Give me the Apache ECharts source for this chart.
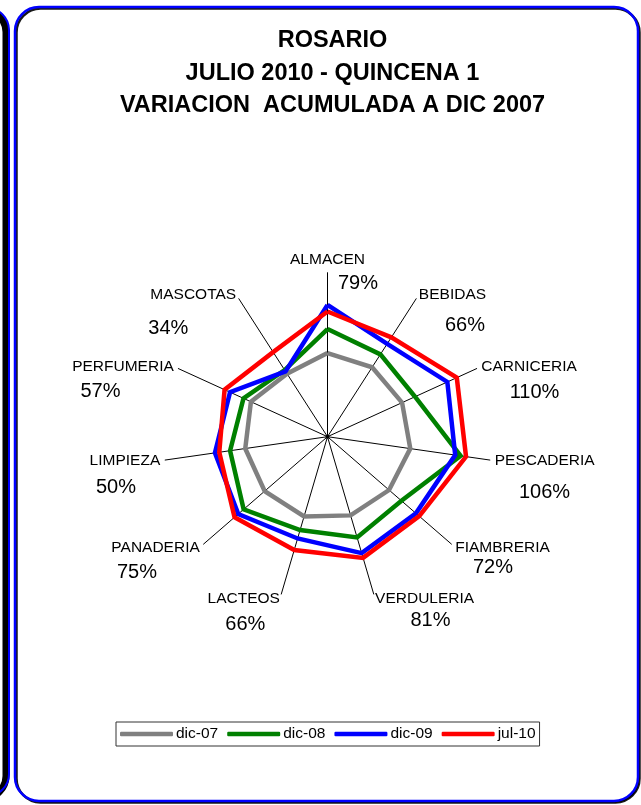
<!DOCTYPE html>
<html>
<head>
<meta charset="utf-8">
<script src="https://cdn.jsdelivr.net/npm/echarts@6/dist/echarts.min.js"></script>
<style>
html,body{margin:0;padding:0;background:#fff;}
#c{width:641px;height:805px;}
</style>
</head>
<body>
<div id="c"></div>
<script>
// ---- data (clockwise from top) ----
const categories = ['ALMACEN','BEBIDAS','CARNICERIA','PESCADERIA','FIAMBRERIA','VERDULERIA','LACTEOS','PANADERIA','LIMPIEZA','PERFUMERIA','MASCOTAS'];
const seriesNames = ['dic-07','dic-08','dic-09','jul-10'];
const dic07 = [3, 1, 0, 3, -1, 0, 2, 2, 2, 4, -13];
const dic08 = [47, 29, 26, 96, 29, 42, 28, 53, 30, 19, -5];
const dic09 = [91, 52, 91, 86, 64, 72, 44, 66, 58, 46, -8];
const jul10 = [79, 66, 110, 106, 72, 81, 66, 75, 50, 57, 34];
const axisMin = -150, axisMax = 150;
const titleLines = ['ROSARIO', 'JULIO 2010 - QUINCENA 1', 'VARIACION  ACUMULADA A DIC 2007'];

// ---- layout / style (not data) ----
const colors = ['#808080', '#008000', '#0000ff', '#ff0000'];
const FONT = '"Liberation Sans", Arial, sans-serif';
const CX = 327.5, CY = 436.7, R = 164;
// positions of the percentage text boxes (centres), same order as categories
const pctPos = [[358,283],[465,325],[534.5,392],[544.5,492],[493,567],[430.5,620],[245.3,624],[137,572],[116,487],[100.5,391],[168.3,328]];

// ECharts radar runs counter-clockwise; reorder so it runs clockwise like the reference
const order = [0].concat(categories.map((_, i) => i).slice(1).reverse());
const reorder = arr => order.map(i => arr[i]);

const chart = echarts.init(document.getElementById('c'), null, {renderer: 'canvas'});

const graphics = [
  // neighbouring panel edge on the far left
  {type: 'rect', shape: {x: -520, y: 10, width: 526, height: 788, r: 22},
   style: {fill: 'none', stroke: '#000', lineWidth: 7}, z: 0},
  {type: 'rect', shape: {x: -520, y: 8, width: 529, height: 788, r: 22},
   style: {fill: 'none', stroke: '#0000ff', lineWidth: 2}, z: 0},
  // main panel border
  {type: 'rect', shape: {x: 15, y: 7, width: 623, height: 794, r: 24},
   style: {fill: '#fff', stroke: '#0000ff', lineWidth: 2.5,
           shadowColor: 'rgba(0,0,0,0.9)', shadowOffsetX: 1.5, shadowOffsetY: 1.5}, z: -1},
  // centre dot
  {type: 'circle', shape: {cx: CX, cy: CY, r: 2}, style: {fill: '#000'}, z: 10}
];
categories.forEach((c, i) => {
  graphics.push({
    type: 'text', x: pctPos[i][0], y: pctPos[i][1], z: 10,
    style: {text: jul10[i] + '%', fontSize: 20, fontFamily: FONT, fill: '#000',
            align: 'center', verticalAlign: 'middle'}
  });
});

const mk = (name, vals, idx) => ({
  value: reorder(vals), name: name,
  symbol: 'none',
  lineStyle: {color: colors[idx], width: 4.5, join: 'miter'},
  itemStyle: {color: colors[idx]},
  z: 2 + idx
});

chart.setOption({
  animation: false,
  backgroundColor: '#fff',
  title: {
    text: titleLines.join('\n'),
    left: 332.5, textAlign: 'center', top: 24.5, padding: 0,
    textStyle: {fontFamily: FONT, fontWeight: 'bold', fontSize: 23.5, lineHeight: 32.5, color: '#000'}
  },
  legend: {
    data: seriesNames,
    left: 116, top: 722,
    orient: 'horizontal',
    icon: 'roundRect',
    itemWidth: 53, itemHeight: 4.5, itemGap: 9,
    padding: [4, 4, 4, 4],
    borderColor: '#333', borderWidth: 1,
    backgroundColor: '#fff',
    textStyle: {fontFamily: FONT, fontSize: 15.5, color: '#000', padding: [0, 0, 0, -2]}
  },
  radar: {
    center: [CX, CY], radius: R,
    startAngle: 90,
    shape: 'polygon',
    splitNumber: 1,
    indicator: reorder(categories).map(n => ({name: n, min: axisMin, max: axisMax})),
    axisName: {color: '#000', fontSize: 15.5, fontFamily: FONT},
    nameGap: 5,
    axisLine: {lineStyle: {color: '#000', width: 1}},
    splitLine: {show: false},
    splitArea: {show: false},
    axisTick: {show: false},
    axisLabel: {show: false}
  },
  graphic: graphics,
  series: [{
    type: 'radar',
    emphasis: {disabled: true},
    silent: true,
    data: [mk(seriesNames[0], dic07, 0), mk(seriesNames[1], dic08, 1), mk(seriesNames[2], dic09, 2), mk(seriesNames[3], jul10, 3)]
  }]
});
</script>
</body>
</html>
